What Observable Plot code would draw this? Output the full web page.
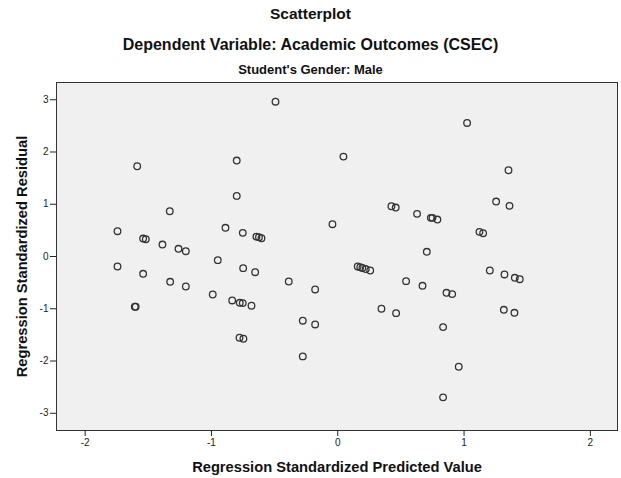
<!DOCTYPE html>
<html>
<head>
<meta charset="utf-8">
<script src="https://cdn.jsdelivr.net/npm/d3@7"></script>
<script src="https://cdn.jsdelivr.net/npm/@observablehq/plot@0.6"></script>
<style>
  html, body { margin: 0; padding: 0; background: #fff; }
  body { width: 621px; height: 478px; overflow: hidden; font-family: Arial, "Liberation Sans", sans-serif; color: #111; }
  #head { position: relative; height: 76px; }
  #head div { position: absolute; left: 0; width: 621px; text-align: center; font-weight: bold; line-height: 18px; }
  #chart svg { display: block; overflow: visible; }
</style>
</head>
<body>
<div id="head">
  <div id="t1" style="top:5px;font-size:15.5px;">Scatterplot</div>
  <div id="t2" style="top:36px;font-size:16px;">Dependent Variable: Academic Outcomes (CSEC)</div>
  <div id="t3" style="top:61px;font-size:13px;">Student's Gender: Male</div>
</div>
<div id="chart"></div>
<script>
// Regression Standardized Predicted Value (x) and Standardized Residual (y)
const predicted = [
  -1.588, -0.800, -0.800, -1.330, -1.744, -1.541, -1.520, -1.388, -1.261, -1.203,
  -0.889, -0.752, -0.950, -0.644, -0.624, -0.604, -0.493,  0.045,  0.425,  0.459,
   0.628,  0.737,  0.750,  0.789, -0.042,  0.705,  1.024,  1.352,  1.254,  1.360,
   1.122,  1.151, -1.744, -1.541, -1.327, -1.203, -1.607, -1.600, -0.749, -0.654,
  -0.990, -0.836, -0.776, -0.752, -0.683, -0.778, -0.747, -0.388, -0.179, -0.277,
  -0.179, -0.277,  0.158,  0.178,  0.195,  0.222,  0.257,  0.541,  0.671,  0.346,
   0.462,  1.204,  1.320,  1.402,  1.441,  0.861,  0.906,  1.315,  1.399,  0.834,
   0.958,  0.834
];
const residual = [
   1.727,  1.836,  1.160,  0.866,  0.484,  0.344,  0.331,  0.229,  0.147,  0.101,
   0.549,  0.453, -0.070,  0.380,  0.370,  0.350,  2.963,  1.912,  0.962,  0.937,
   0.816,  0.740,  0.740,  0.707,  0.618,  0.090,  2.556,  1.651,  1.052,  0.969,
   0.472,  0.446, -0.191, -0.331, -0.484, -0.574, -0.962, -0.962, -0.223, -0.300,
  -0.727, -0.841, -0.886, -0.892, -0.943, -1.555, -1.574, -0.478, -0.631, -1.229,
  -1.300, -1.912, -0.191, -0.205, -0.220, -0.240, -0.268, -0.472, -0.561, -1.000,
  -1.084, -0.268, -0.344, -0.408, -0.434, -0.695, -0.720, -1.020, -1.077, -1.351,
  -2.110, -2.696
];
const xTicks = [-2, -1, 0, 1, 2];
const yTicks = [-3, -2, -1, 0, 1, 2, 3];
const xLabel = "Regression Standardized Predicted Value";
const yLabel = "Regression Standardized Residual";

const points = predicted.map((x, i) => ({x, y: residual[i]}));

const chart = Plot.plot({
  width: 621,
  height: 402,
  marginTop: 6,
  marginBottom: 48,
  marginLeft: 56,
  marginRight: 4,
  style: {fontFamily: "Arial, 'Liberation Sans', sans-serif", fontSize: "10px", background: "#fff", color: "#222", overflow: "visible"},
  x: {domain: [-2.227, 2.215]},
  y: {domain: [-3.33, 3.33]},
  marks: [
    Plot.frame({fill: "#f0f0f0", stroke: null}),
    Plot.dot(points, {x: "x", y: "y", r: 3.3, stroke: "#333", strokeWidth: 1.3, fill: "none"}),
    Plot.frame({stroke: "#333", strokeWidth: 1}),
    Plot.axisX({ticks: xTicks, tickFormat: d => String(d), tickSize: 6, tickPadding: 2, label: null, fontSize: 10}),
    Plot.axisY({ticks: yTicks, tickFormat: d => String(d), tickSize: 6, tickPadding: 2, label: null, fontSize: 10}),
    Plot.text([xLabel], {frameAnchor: "bottom", dy: 37, text: d => d, fontWeight: "bold", fontSize: 14.7, fill: "#111", lineAnchor: "middle", textAnchor: "middle"}),
    Plot.text([yLabel], {frameAnchor: "left", dx: -34, rotate: -90, text: d => d, fontWeight: "bold", fontSize: 14.7, fill: "#111", lineAnchor: "middle", textAnchor: "middle"})
  ]
});
document.getElementById("chart").appendChild(chart);
</script>
</body>
</html>
